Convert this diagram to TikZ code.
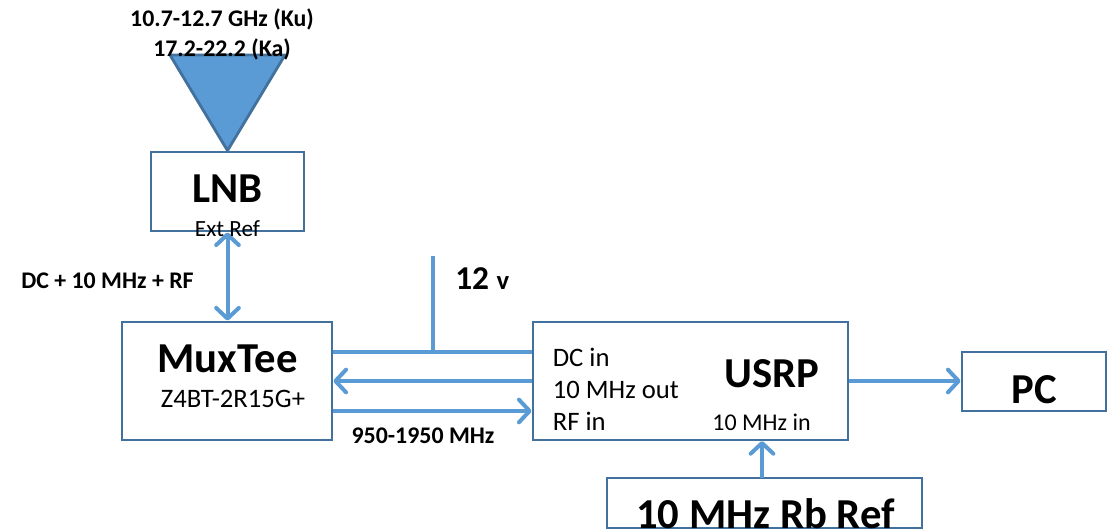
\documentclass[tikz,border=0pt]{standalone}
\usepackage{fontspec}
\setmainfont{Carlito}
\usetikzlibrary{arrows.meta}
\definecolor{linkBlue}{HTML}{5B9BD5}
\definecolor{boxBlue}{HTML}{41719C}
\tikzset{
    boxnode/.style={draw=boxBlue, line width=2.1pt, inner sep=0pt},
    linkline/.style={draw=linkBlue, line width=3pt, >={Straight Barb[length=8pt,width=17pt,line width=3pt,round]}},
    bigtext/.style={font=\bfseries\fontsize{32}{32}\selectfont, anchor=base, inner sep=0pt},
    midtext/.style={font=\fontsize{20}{20}\selectfont, inner sep=0pt},
    smalltext/.style={font=\fontsize{18}{18}\selectfont, anchor=base, inner sep=0pt},
    smalllabel/.style={font=\bfseries\fontsize{17.9}{18}\selectfont, anchor=base, inner sep=0pt}
}
\begin{document}
\begin{tikzpicture}[x=0.75pt,y=-0.75pt]
            \useasboundingbox (0,0) rectangle (1112,529);
            % boxes
            \node[boxnode, minimum width=114.75pt, minimum height=59.25pt] (lnb) at (227.5,191.5) {};
            \node[boxnode, minimum width=157.5pt, minimum height=88.5pt] (muxtee) at (227,381) {};
            \node[boxnode, minimum width=236.25pt, minimum height=88.5pt] (usrp) at (690.5,381) {};
            \node[boxnode, minimum width=108pt, minimum height=44.25pt] (pc) at (1034,381.5) {};
            \node[boxnode, minimum width=236.25pt, minimum height=37.5pt] (rbref) at (764.5,503) {};
            % antenna
            \draw[draw=boxBlue, line width=2.1pt, fill=linkBlue, line join=round] (170,55) -- (285,55) -- (lnb.north) -- cycle;
            % free ends
            \coordinate (supply) at (433,256);
            \coordinate (muxDC) at (muxtee.east |- 0,352);
            \coordinate (usrpDC) at (usrp.west |- 0,352);
            \coordinate (muxRef) at (muxtee.east |- 0,381);
            \coordinate (usrpRef) at (usrp.west |- 0,381);
            \coordinate (muxRF) at (muxtee.east |- 0,411);
            \coordinate (usrpRF) at (usrp.west |- 0,411);
            \coordinate (usrpOut) at (usrp.east |- 0,381);
            \coordinate (pcIn) at (pc.west |- 0,381);
            \coordinate (usrpIn) at (762,441);
            \coordinate (rbOut) at (762,478);
            \coordinate (dcJoin) at (433,352);
            % links
            \draw[linkline, <->] (muxtee.north -| lnb.south) -- (lnb.south);
            \draw[linkline] (muxDC) -- (usrpDC);
            \draw[linkline] (supply) -- (dcJoin);
            \draw[linkline, ->] (usrpRef) -- (muxRef);
            \draw[linkline, ->] (muxRF) -- (usrpRF);
            \draw[linkline, ->] (usrpOut) -- (pcIn);
            \draw[linkline, ->] (rbOut) -- (usrpIn);
            % labels
            \node[bigtext] (lnbtitle) at (227.5,202.5) {LNB};
            \node[smalltext, font=\fontsize{17.4}{18}\selectfont] (extref) at (227.5,236) {Ext Ref};
            \node[bigtext] (muxtitle) at (227.5,372) {MuxTee};
            \node[midtext, anchor=base] (muxpart) at (233,407) {Z4BT-2R15G+};
            \node[bigtext] (usrptitle) at (772,387) {USRP};
            \node[midtext, anchor=base west] (dcin) at (552.5,366) {DC in};
            \node[midtext, anchor=base west] (refout) at (552.5,398) {10 MHz out};
            \node[midtext, anchor=base west] (rfin) at (552.5,430) {RF in};
            \node[smalltext] (refin) at (761.5,430) {10 MHz in};
            \node[bigtext] (pctitle) at (1034,403) {PC};
            \node[bigtext] (rbtitle) at (765.5,528) {10 MHz Rb Ref};
            \node[smalllabel] (kuband) at (222,26) {10.7-12.7 GHz (Ku)};
            \node[smalllabel] (kaband) at (222,56) {17.2-22.2 (Ka)};
            \node[smalllabel] (linklabel) at (107.5,288) {DC + 10 MHz + RF};
            \node[smalllabel] (iflabel) at (423,443) {950-1950 MHz};
            \node[anchor=base west, inner sep=0pt, font=\bfseries\fontsize{25}{25}\selectfont] (volts) at (455,289) {12 \fontsize{20}{20}\selectfont v};
        \end{tikzpicture}
\end{document}
